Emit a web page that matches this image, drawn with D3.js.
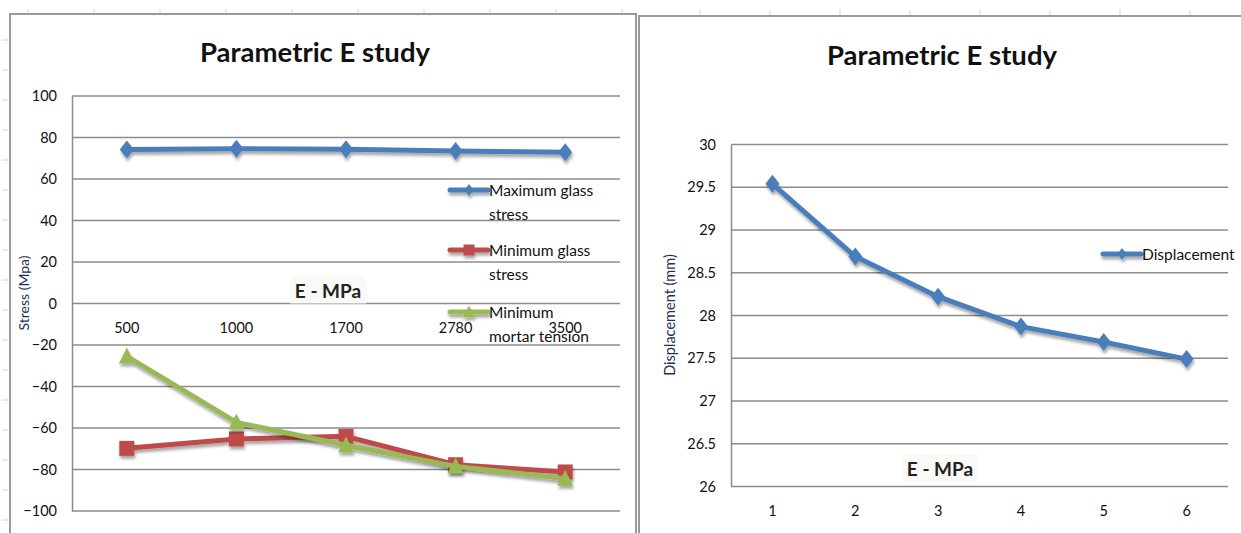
<!DOCTYPE html>
<html>
<head>
<meta charset="utf-8">
<script src="https://cdn.jsdelivr.net/npm/d3@7/dist/d3.min.js"></script>
<style>
  html, body { margin: 0; padding: 0; background: #fff; }
  svg { display: block; font-family: Lato, "Open Sans", sans-serif; }
</style>
</head>
<body>
<svg id="chart" width="1241" height="533"></svg>
<script>
// ---- Stress chart data ----
const stressCategories = ["500", "1000", "1700", "2780", "3500"];
const maxGlassStress   = [74.2, 74.6, 74.3, 73.5, 72.9];
const minGlassStress   = [-69.8, -65.3, -64.0, -77.7, -81.2];
const minMortarTension = [-25.5, -57.3, -68.3, -78.5, -84.4];
const stressTicks      = [-100, -80, -60, -40, -20, 0, 20, 40, 60, 80, 100];

// ---- Displacement chart data ----
const dispCategories = ["1", "2", "3", "4", "5", "6"];
const displacement   = [29.54, 28.69, 28.22, 27.87, 27.69, 27.49];
const dispTicks      = [26, 26.5, 27, 27.5, 28, 28.5, 29, 29.5, 30];

const svg = d3.select("#chart");
const defs = svg.append("defs");
defs.append("filter").attr("id", "shadow")
  .attr("x", "-20%").attr("y", "-20%").attr("width", "140%").attr("height", "160%")
  .append("feDropShadow")
  .attr("dx", 1).attr("dy", 3).attr("stdDeviation", 1.8)
  .attr("flood-color", "#000").attr("flood-opacity", 0.35);

const COLORS = { blue: "#4a7ebb", red: "#be4b48", green: "#98b954" };
const GRID = "#8c8c8c";

// marker shapes
const markers = {
  diamond: (w, h) => `M0,${-h}L${w},0L0,${h}L${-w},0Z`,
  square: (w) => `M${-w},${-w}H${w}V${w}H${-w}Z`,
  triangle: (w, h) => `M0,${-h}L${w},${h * 0.8}H${-w}Z`
};

// faint spreadsheet cell borders behind the charts
const sheet = svg.append("g").attr("stroke", "#d4d4d4").attr("stroke-width", 1);
d3.range(28, 640, 66).forEach(x => sheet.append("line").attr("x1", x).attr("x2", x).attr("y1", 9).attr("y2", 14));
d3.range(700, 1241, 70).forEach(x => sheet.append("line").attr("x1", x).attr("x2", x).attr("y1", 10).attr("y2", 16));
d3.range(40, 533, 30).forEach(y => sheet.append("line").attr("x1", 2).attr("x2", 8).attr("y1", y).attr("y2", y));

// chart frames
svg.append("path").attr("d", "M10,540V14H636V540")
  .attr("fill", "none").attr("stroke", "#9a9a9a").attr("stroke-width", 2);
svg.append("path").attr("d", "M639,540V16H1250")
  .attr("fill", "none").attr("stroke", "#9a9a9a").attr("stroke-width", 2);

function title(cx, y, text) {
  svg.append("text").attr("x", cx).attr("y", y)
    .attr("text-anchor", "middle")
    .attr("font-size", 27.5).attr("font-weight", 700).attr("fill", "#111")
    .text(text);
}

function axisLabelBox(cx, cy, text) {
  const g = svg.append("g");
  const t = g.append("text").attr("x", cx).attr("y", cy)
    .attr("text-anchor", "middle").attr("dominant-baseline", "central")
    .attr("font-size", 19).attr("font-weight", 700).attr("fill", "#222")
    .text(text);
  const bb = t.node().getBBox();
  g.insert("rect", "text").attr("x", bb.x - 5).attr("y", bb.y - 2)
    .attr("width", bb.width + 10).attr("height", bb.height + 4)
    .attr("fill", "#f9f9f5");
}

function drawSeries(g, x, y, values, color, shape) {
  const line = d3.line()
    .x((d, i) => x(x.domain()[i]) + x.bandwidth() / 2)
    .y(d => y(d));
  const sg = g.append("g").attr("filter", "url(#shadow)");
  sg.append("path").datum(values)
    .attr("d", line).attr("fill", "none")
    .attr("stroke", color).attr("stroke-width", 5).attr("stroke-linejoin", "round");
  sg.selectAll("path.m").data(values).join("path").attr("class", "m")
    .attr("transform", (d, i) => `translate(${x(x.domain()[i]) + x.bandwidth() / 2},${y(d)})`)
    .attr("d", shape).attr("fill", color);
}

function legendItem(x, y, color, shape, lines) {
  const g = svg.append("g");
  const lg = g.append("g").attr("filter", "url(#shadow)");
  lg.append("line").attr("x1", x).attr("x2", x + 38).attr("y1", y).attr("y2", y)
    .attr("stroke", color).attr("stroke-width", 5).attr("stroke-linecap", "round");
  lg.append("path").attr("transform", `translate(${x + 19},${y})`).attr("d", shape).attr("fill", color);
  lines.forEach((l, i) => {
    g.append("text").attr("x", x + 39).attr("y", y + i * 24)
      .attr("dominant-baseline", "central")
      .attr("font-size", 15.5).attr("fill", "#111").text(l);
  });
}

// ================= Stress chart =================
{
  const x = d3.scaleBand().domain(stressCategories).range([72, 620]);
  const y = d3.scaleLinear().domain([-100, 100]).range([511, 96]);
  const g = svg.append("g");

  g.append("g").selectAll("line").data(stressTicks).join("line")
    .attr("x1", 72).attr("x2", 620).attr("y1", d => y(d)).attr("y2", d => y(d))
    .attr("stroke", GRID).attr("stroke-width", 1.5);

  const ya = g.append("g").attr("transform", "translate(72,0)")
    .call(d3.axisLeft(y).tickValues(stressTicks).tickSize(0).tickPadding(15));
  ya.select(".domain").attr("stroke", GRID).attr("stroke-width", 1.5);
  ya.selectAll("text").attr("font-size", 14.5).attr("fill", "#111").attr("font-family", "Lato, sans-serif");

  const xa = g.append("g").attr("transform", `translate(0,${y(0)})`)
    .call(d3.axisBottom(x).tickSize(0).tickPadding(19));
  xa.select(".domain").remove();
  xa.selectAll("text").attr("font-size", 14.5).attr("fill", "#111").attr("font-family", "Lato, sans-serif");

  svg.append("text").attr("transform", "translate(23,293) rotate(-90)")
    .attr("text-anchor", "middle").attr("dominant-baseline", "central")
    .attr("font-size", 14).attr("fill", "#1f2f55").text("Stress (Mpa)");

  title(315, 62, "Parametric E study");
  axisLabelBox(328, 290, "E - MPa");

  drawSeries(g, x, y, maxGlassStress, COLORS.blue, markers.diamond(7, 9));
  drawSeries(g, x, y, minGlassStress, COLORS.red, markers.square(7.5));
  drawSeries(g, x, y, minMortarTension, COLORS.green, markers.triangle(8, 9));

  legendItem(450, 190, COLORS.blue, markers.diamond(4.5, 6), ["Maximum glass", "stress"]);
  legendItem(450, 250, COLORS.red, markers.square(5.5), ["Minimum glass", "stress"]);
  legendItem(450, 312, COLORS.green, markers.triangle(6, 6.5), ["Minimum", "mortar tension"]);
}

// ================= Displacement chart =================
{
  const x = d3.scaleBand().domain(dispCategories).range([731, 1228]);
  const y = d3.scaleLinear().domain([26, 30]).range([486.5, 144.5]);
  const g = svg.append("g");

  g.append("g").selectAll("line").data(dispTicks).join("line")
    .attr("x1", 731).attr("x2", 1228).attr("y1", d => y(d)).attr("y2", d => y(d))
    .attr("stroke", GRID).attr("stroke-width", 1.5);

  const ya = g.append("g").attr("transform", "translate(731,0)")
    .call(d3.axisLeft(y).tickValues(dispTicks).tickFormat(d3.format("~g")).tickSize(0).tickPadding(15));
  ya.select(".domain").attr("stroke", GRID).attr("stroke-width", 1.5);
  ya.selectAll("text").attr("font-size", 14.5).attr("fill", "#111").attr("font-family", "Lato, sans-serif");

  const xa = g.append("g").attr("transform", `translate(0,${y(26)})`)
    .call(d3.axisBottom(x).tickSize(0).tickPadding(19));
  xa.select(".domain").remove();
  xa.selectAll("text").attr("font-size", 14.5).attr("fill", "#111").attr("font-family", "Lato, sans-serif");

  svg.append("text").attr("transform", "translate(669,315) rotate(-90)")
    .attr("text-anchor", "middle").attr("dominant-baseline", "central")
    .attr("font-size", 14.5).attr("fill", "#1f2f55").text("Displacement (mm)");

  title(942, 65, "Parametric E study");
  axisLabelBox(940, 468, "E - MPa");

  drawSeries(g, x, y, displacement, COLORS.blue, markers.diamond(7, 9));

  legendItem(1103, 254, COLORS.blue, markers.diamond(4.5, 6), ["Displacement"]);
}
</script>
</body>
</html>
